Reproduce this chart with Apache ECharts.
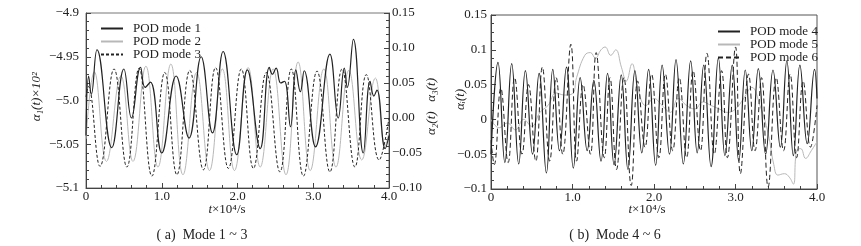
<!DOCTYPE html>
<html>
<head>
<meta charset="utf-8">
<script src="https://cdn.jsdelivr.net/npm/echarts@6/dist/echarts.min.js"></script>
<style>html,body{margin:0;padding:0;background:#fff}#c{width:861px;height:246px}</style>
</head>
<body>
<div id="c"></div>
<script>
// ---------- tick labels ----------
const xTicks = [0, 1, 2, 3, 4];
const xTickLabels = ['0', '1.0', '2.0', '3.0', '4.0'];
const leftYTicks = [-5.1, -5.05, -5.0, -4.95, -4.9];
const leftYLabels = ['\u22125.1', '\u22125.05', '\u22125.0', '\u22124.95', '\u22124.9'];
const leftY2Ticks = [-0.1, -0.05, 0, 0.05, 0.1, 0.15];
const leftY2Labels = ['\u22120.10', '\u22120.05', '0.00', '0.05', '0.10', '0.15'];
const rightYTicks = [-0.1, -0.05, 0, 0.05, 0.1, 0.15];
const rightYLabels = ['\u22120.1', '\u22120.05', '0', '0.05', '0.1', '0.15'];

// ---------- series names ----------
const namesA = ['POD mode 1', 'POD mode 2', 'POD mode 3'];
const namesB = ['POD mode 4', 'POD mode 5', 'POD mode 6'];

// ---------- data: [t (x10^4 s), value] read at turning points ----------
const mode1 = [[0,-5.04],[0.035,-4.972],[0.07,-4.993],[0.145,-4.942],[0.34,-5.054],[0.50,-4.964],[0.60,-5.02],[0.72,-4.962],[0.78,-4.985],[0.85,-4.979],[1.0,-5.06],[1.19,-4.972],[1.36,-5.043],[1.52,-4.95],[1.67,-5.037],[1.81,-4.944],[1.99,-5.062],[2.13,-4.965],[2.30,-5.055],[2.42,-4.962],[2.46,-4.97],[2.51,-4.963],[2.57,-4.98],[2.62,-4.978],[2.70,-5.03],[2.77,-4.965],[2.83,-4.99],[2.88,-4.966],[3.03,-5.053],[3.22,-4.947],[3.33,-5.02],[3.41,-4.963],[3.45,-4.985],[3.53,-4.930],[3.66,-5.06],[3.75,-4.978],[3.80,-4.995],[3.84,-4.988],[3.95,-5.055],[4.0,-5.04]];
const mode2 = [[0,-0.03],[0.11,0.066],[0.27,-0.062],[0.46,0.06],[0.62,-0.062],[0.79,0.074],[0.95,-0.07],[1.12,0.077],[1.28,-0.081],[1.46,0.065],[1.63,-0.075],[1.80,0.07],[1.96,-0.075],[2.14,0.072],[2.30,-0.07],[2.47,0.07],[2.64,-0.081],[2.80,0.08],[2.96,-0.075],[3.14,0.07],[3.30,-0.07],[3.47,0.068],[3.64,-0.06],[3.82,0.057],[3.95,-0.04],[4.0,-0.02]];
const mode3 = [[0,0.03],[0.03,0.045],[0.185,-0.069],[0.37,0.07],[0.54,-0.07],[0.70,0.071],[0.87,-0.083],[1.04,0.065],[1.20,-0.081],[1.37,0.068],[1.55,-0.074],[1.71,0.072],[1.88,-0.072],[2.05,0.07],[2.21,-0.072],[2.38,0.065],[2.56,-0.077],[2.71,0.07],[2.87,-0.083],[3.05,0.067],[3.22,-0.077],[3.38,0.07],[3.55,-0.07],[3.70,0.062],[3.87,-0.06],[4.0,0.0]];
const mode4 = [[0,-0.05],[0.086,0.082],[0.17,-0.062],[0.254,0.08],[0.34,-0.064],[0.422,0.07],[0.51,-0.05],[0.59,0.066],[0.68,-0.077],[0.758,0.072],[0.84,-0.045],[0.926,0.075],[1.01,-0.07],[1.094,0.06],[1.18,-0.045],[1.262,0.056],[1.35,-0.06],[1.43,0.066],[1.51,-0.065],[1.598,0.064],[1.68,-0.072],[1.766,0.07],[1.85,-0.048],[1.934,0.072],[2.02,-0.066],[2.10,0.078],[2.19,-0.05],[2.27,0.086],[2.36,-0.064],[2.45,0.084],[2.53,-0.048],[2.61,0.078],[2.70,-0.068],[2.79,0.088],[2.87,-0.052],[2.96,0.078],[3.04,-0.06],[3.12,0.071],[3.20,-0.045],[3.28,0.073],[3.37,-0.05],[3.46,0.071],[3.55,-0.04],[3.63,0.084],[3.71,-0.052],[3.79,0.078],[3.88,-0.035],[3.97,0.072],[4.0,0.03]];
const mode5 = [[0,0.0],[0.1,-0.012],[0.2,-0.005],[0.3,-0.015],[0.4,0.0],[0.5,-0.01],[0.6,0.01],[0.7,0.02],[0.8,0.038],[0.9,0.035],[1.0,0.037],[1.05,0.06],[1.15,0.092],[1.22,0.096],[1.28,0.088],[1.35,0.1],[1.4,0.104],[1.47,0.092],[1.53,0.1],[1.6,0.075],[1.66,0.055],[1.73,0.08],[1.8,0.045],[1.9,0.02],[2.0,0.03],[2.1,0.02],[2.2,0.01],[2.3,0.03],[2.4,0.02],[2.5,0.015],[2.6,0.025],[2.7,0.02],[2.8,0.015],[2.9,0.01],[3.0,0.015],[3.1,0.03],[3.2,0.046],[3.3,0.02],[3.4,-0.02],[3.47,-0.065],[3.52,-0.08],[3.6,-0.078],[3.66,-0.083],[3.71,-0.093],[3.75,-0.045],[3.8,-0.042],[3.86,-0.056],[3.93,-0.045],[4.0,-0.032]];
const mode6 = [[0,-0.03],[0.04,-0.065],[0.12,0.045],[0.21,-0.062],[0.29,0.06],[0.38,-0.05],[0.46,0.05],[0.55,-0.06],[0.63,0.075],[0.72,-0.06],[0.80,0.06],[0.88,-0.05],[0.98,0.108],[1.05,-0.06],[1.13,0.05],[1.22,-0.05],[1.29,0.096],[1.39,-0.055],[1.46,0.06],[1.54,-0.072],[1.63,0.06],[1.72,-0.095],[1.80,0.055],[1.89,-0.04],[1.97,0.065],[2.06,-0.055],[2.14,0.065],[2.23,-0.045],[2.31,0.06],[2.40,-0.055],[2.48,0.07],[2.57,-0.045],[2.65,0.095],[2.74,-0.05],[2.83,0.07],[2.90,-0.055],[3.0,0.104],[3.06,-0.078],[3.16,0.065],[3.24,-0.045],[3.32,0.06],[3.40,-0.097],[3.50,0.06],[3.59,-0.045],[3.67,0.065],[3.75,-0.055],[3.83,0.055],[3.92,-0.04],[4.0,0.02]];

// ---------- styling ----------
const FONT = '"Liberation Serif","DejaVu Serif",serif';
const INK = '#222';
const AX = '#444';
const GRAY = '#b8b8b8';

function pick(ticks, labels) {
  return function (v) {
    const i = ticks.findIndex(t => Math.abs(t - v) < 1e-6);
    return i >= 0 ? labels[i] : '';
  };
}

function xAxisCfg(grid) {
  return {
    type: 'value', gridIndex: grid, min: 0, max: 4, interval: 1,
    axisLine: { show: true, onZero: false, lineStyle: { color: AX, width: 1 } },
    axisTick: { show: true, inside: true, length: 5, lineStyle: { color: AX } },
    minorTick: { show: true, splitNumber: 5, length: 3, lineStyle: { color: AX } },
    splitLine: { show: false },
    axisLabel: { margin: 2, color: INK, fontFamily: FONT, fontSize: 13, formatter: pick(xTicks, xTickLabels) }
  };
}
function yAxisCfg(grid, pos, min, max, ticks, labels, split, margin) {
  return {
    type: 'value', gridIndex: grid, position: pos, min: min, max: max, interval: 0.05,
    axisLine: { show: true, onZero: false, lineStyle: { color: AX, width: 1 } },
    axisTick: { show: true, inside: true, length: 5, lineStyle: { color: AX } },
    minorTick: { show: true, splitNumber: split, length: 3, lineStyle: { color: AX } },
    splitLine: { show: false },
    axisLabel: { margin: margin, color: INK, fontFamily: FONT, fontSize: 13, formatter: pick(ticks, labels) }
  };
}

function line(name, data, xi, yi, color, width, type) {
  return {
    name: name, type: 'line', data: data, xAxisIndex: xi, yAxisIndex: yi,
    showSymbol: false, symbol: 'none', smooth: 0.45, animation: false,
    lineStyle: { color: color, width: width, type: type },
    itemStyle: { color: color }
  };
}

const legendText = { color: INK, fontFamily: FONT, fontSize: 13, lineHeight: 10, padding: [0, 0, 0, 5] };
const tName = { text: '{i|t}\u00d710\u2074/s', font: '13px ' + FONT, fill: INK, align: 'center', verticalAlign: 'middle',
  rich: { i: { fontStyle: 'italic', fontFamily: FONT, fontSize: 13 } } };

const chart = echarts.init(document.getElementById('c'), null, { renderer: 'canvas' });
chart.setOption({
  backgroundColor: '#fff',
  animation: false,
  grid: [
    { left: 86, top: 13, width: 303, height: 175, show: true, borderColor: '#777', borderWidth: 1, containLabel: false },
    { left: 491, top: 15, width: 326, height: 174, show: true, borderColor: '#555', borderWidth: 1, containLabel: false }
  ],
  xAxis: [xAxisCfg(0), xAxisCfg(1)],
  yAxis: [
    yAxisCfg(0, 'left', -5.1, -4.9, leftYTicks, leftYLabels, 5, 7),
    yAxisCfg(0, 'right', -0.1, 0.15, leftY2Ticks, leftY2Labels, 5, 3),
    yAxisCfg(1, 'left', -0.1, 0.15, rightYTicks, rightYLabels, 4, 4)
  ],
  legend: [
    { data: namesA, orient: 'vertical', left: 95, top: 17, itemWidth: 22, itemHeight: 10, itemGap: 0,
      itemStyle: { opacity: 0 }, textStyle: legendText, selectedMode: false },
    { data: namesB, orient: 'vertical', left: 712, top: 20, itemWidth: 22, itemHeight: 10, itemGap: 0,
      itemStyle: { opacity: 0 }, textStyle: legendText, selectedMode: false }
  ],
  series: [
    line(namesA[1], mode2, 0, 1, GRAY, 1, 'solid'),
    line(namesA[2], mode3, 0, 1, INK, 1, [3, 2]),
    line(namesA[0], mode1, 0, 0, INK, 1.2, 'solid'),
    line(namesB[1], mode5, 1, 2, GRAY, 1, 'solid'),
    line(namesB[2], mode6, 1, 2, INK, 1, [5, 3]),
    line(namesB[0], mode4, 1, 2, INK, 1.2, 'solid')
  ],
  graphic: [
    { type: 'text', left: 30, top: 72, rotation: Math.PI / 2,
      style: { text: '\u03b1\u2081(t)\u00d710\u00b2', font: 'italic 13px ' + FONT, fill: INK } },
    { type: 'text', x: 425, y: 135, rotation: Math.PI / 2,
      style: { text: '\u03b1\u2082(t)   \u03b1\u2083(t)', font: 'italic 13px ' + FONT, fill: INK } },
    { type: 'text', x: 454, y: 110, rotation: Math.PI / 2,
      style: { text: '\u03b1\u1d62(t)', font: 'italic 13px ' + FONT, fill: INK } },
    { type: 'text', x: 227, y: 210, style: Object.assign({}, tName) },
    { type: 'text', x: 647, y: 210, style: Object.assign({}, tName) },
    { type: 'text', x: 202, y: 235,
      style: { text: '( a)  Mode 1 ~ 3', font: '14px ' + FONT, fill: INK, align: 'center', verticalAlign: 'middle' } },
    { type: 'text', x: 615, y: 235,
      style: { text: '( b)  Mode 4 ~ 6', font: '14px ' + FONT, fill: INK, align: 'center', verticalAlign: 'middle' } }
  ]
});
</script>
</body>
</html>
